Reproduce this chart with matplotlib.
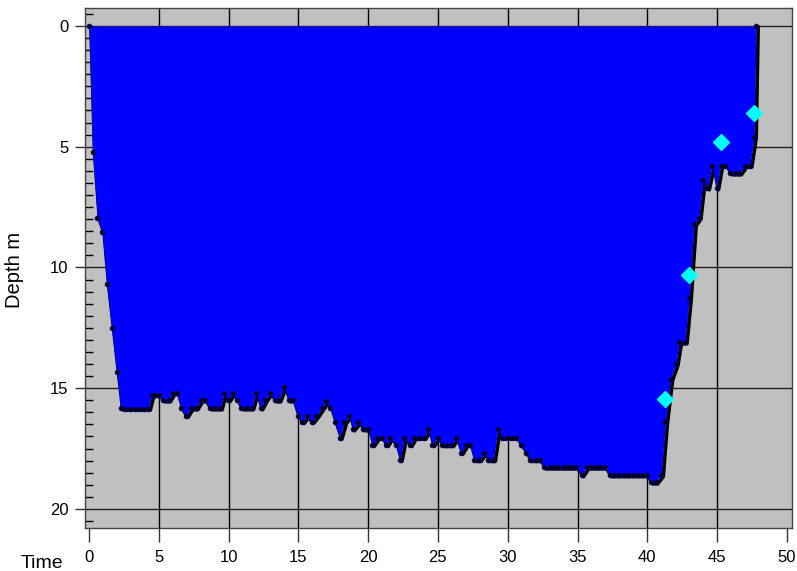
import numpy as np
import matplotlib
matplotlib.use('agg')
import matplotlib.pyplot as plt
import matplotlib.transforms as mtransforms

# dive profile: time (min) vs depth (m)
time = [0, 0.26, 0.6, 0.95, 1.27, 1.62, 1.98, 2.27, 2.6, 2.95, 3.3, 3.6, 3.95, 4.25,
        4.5, 4.75, 5.0, 5.3, 5.7, 6.0, 6.3, 6.6, 6.95, 7.3, 7.66, 8.0, 8.3, 8.67,
        9.0, 9.4, 9.67, 9.96, 10.3, 10.6, 10.9, 11.3, 11.65, 11.96, 12.3, 12.6,
        12.97, 13.3, 13.6, 13.97, 14.3, 14.6, 14.95, 15.28, 15.6, 15.95, 16.3,
        16.67, 17.0, 17.3, 17.6, 17.98, 18.3, 18.65, 18.9, 19.3, 19.65, 20.0,
        20.3, 20.65, 20.97, 21.3, 21.6, 22.0, 22.28, 22.6, 23.0, 23.3, 23.66,
        24.0, 24.3, 24.6, 24.98, 25.3, 25.67, 25.98, 26.3, 26.65, 26.98, 27.3,
        27.6, 27.96, 28.3, 28.6, 28.97, 29.3, 29.6, 30.0, 30.3, 30.6, 30.95,
        31.3, 31.6, 32.0, 32.3, 32.6, 33.0, 33.3, 33.6, 34.0, 34.3, 34.6, 34.9,
        35.3, 35.65, 36.0, 36.3, 36.6, 36.96, 37.3, 37.6, 38.0, 38.3, 38.6,
        39.0, 39.3, 39.6, 39.95, 40.25, 40.6, 41.0, 41.3, 41.67, 42.05, 42.3,
        42.7, 43.0, 43.36, 43.7, 44.0, 44.3, 44.65, 44.96, 45.25, 45.6, 45.96,
        46.3, 46.6, 46.99, 47.35, 47.66, 47.8]
depth = [0, 5.2, 7.94, 8.55, 10.67, 12.49, 14.33, 15.83, 15.85, 15.85, 15.85, 15.85, 15.85, 15.85,
         15.28, 15.28, 15.28, 15.5, 15.5, 15.2, 15.2, 15.83, 16.15, 15.83, 15.83, 15.5, 15.5, 15.83,
         15.83, 15.83, 15.2, 15.5, 15.2, 15.5, 15.83, 15.83, 15.83, 15.2, 15.83, 15.5,
         15.2, 15.5, 15.5, 14.93, 15.5, 15.5, 16.15, 16.4, 16.15, 16.4, 16.15,
         15.83, 15.55, 15.83, 16.4, 17.05, 16.4, 16.15, 16.7, 16.4, 16.7, 16.7,
         17.35, 17.05, 17.05, 17.35, 17.05, 17.35, 17.97, 17.05, 17.35, 17.05, 17.05,
         17.05, 16.7, 17.35, 17.05, 17.35, 17.35, 17.35, 17.05, 17.67, 17.35, 17.35,
         17.97, 17.97, 17.67, 17.97, 17.97, 16.7, 17.05, 17.05, 17.05, 17.05, 17.35,
         17.67, 17.97, 17.97, 17.97, 18.28, 18.28, 18.28, 18.28, 18.28, 18.28, 18.28, 18.28,
         18.6, 18.28, 18.28, 18.28, 18.28, 18.28, 18.6, 18.6, 18.6, 18.6, 18.6,
         18.6, 18.6, 18.6, 18.6, 18.9, 18.9, 18.6, 16.4, 14.6, 14.0, 13.1,
         13.1, 11.28, 8.21, 7.94, 6.38, 6.72, 5.78, 6.72, 5.78, 5.78, 6.1,
         6.1, 6.1, 5.78, 5.78, 4.58, 0]

# marked events
event_time = [41.3, 43.0, 45.3, 47.66]
event_depth = [15.45, 10.3, 4.8, 3.6]

x_ticks = [0, 5, 10, 15, 20, 25, 30, 35, 40, 45, 50]
y_ticks = [0, 5, 10, 15, 20]

plt.rcParams['font.family'] = ['Liberation Sans', 'DejaVu Sans']
fig = plt.figure(figsize=(7.97, 5.71), dpi=100)
ax = fig.add_axes([0.1066, 0.0753, 0.887, 0.9107])
ax.set_facecolor('#c0c0c0')

# grid lines under the profile
for xv in x_ticks[1:-1]:
    ax.axvline(xv, color='black', lw=1, zorder=1)
for yv in y_ticks:
    ax.axhline(yv, color='#222222', lw=1, zorder=1)

# black shadow line, shifted a little right/down
shift = mtransforms.ScaledTranslation(2 / 100, -1.5 / 100, fig.dpi_scale_trans)
ax.plot(time, depth, color='black', lw=2.6, transform=ax.transData + shift, zorder=2)
ax.fill_between(time, 0, depth, color='#0000ff', lw=0, zorder=3)
ax.plot(time, depth, 'o', ms=3.4, mfc='black', mec='#000080', mew=0.6, zorder=4)
ax.plot(event_time, event_depth, 'D', ms=8.5, color='#00ffff', mec='#00ffff', zorder=5)

ax.set_xlim(-0.287, 50.36)
ax.set_ylim(20.79, -0.745)
ax.set_xticks(x_ticks)
ax.set_yticks(y_ticks)
ax.set_yticks(np.arange(-0.5, 20.6, 0.5), minor=True)
ax.set_xticks([0, 50], minor=True)
ax.tick_params(axis='both', which='major', direction='out', length=7, width=1,
               color='#333333', labelsize=12, pad=5)
ax.tick_params(axis='x', which='major', length=10, pad=6)
ax.tick_params(axis='both', which='minor', direction='in', length=6, width=1, color='black')
ax.tick_params(axis='x', which='minor', length=8)
for s in ax.spines.values():
    s.set_linestyle((0, (3, 1)))
    s.set_color('#444444')
    s.set_linewidth(1)

fig.text(14 / 797, 1 - 270 / 571, 'Depth m', rotation=90, ha='center', va='center', fontsize=14.5)
fig.text(42 / 797, 1 - 563 / 571, 'Time', ha='center', va='center', fontsize=14)

fig.savefig('out.png', dpi=100)
